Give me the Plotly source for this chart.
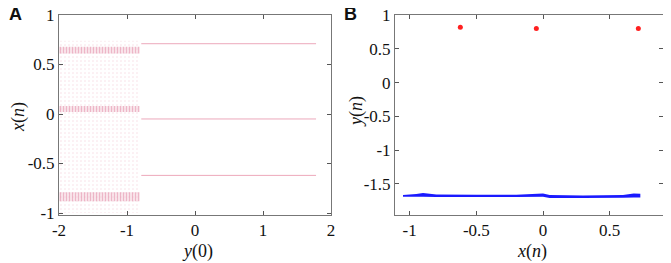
import plotly.graph_objects as go

# ---------------- Panel A data ----------------
# chaotic region extent (y(0) range) and x(n) bounds
chaos_x = [-2.0, -0.81]
chaos_y = [-1.0, 0.74]
# dense bands inside chaotic region: (low, high)
band_lows = [0.61, 0.02, -0.88]
band_highs = [0.68, 0.08, -0.79]
# period-3 branches for y(0) > -0.8
branch_x = [-0.79, 1.78]
branch_levels = [0.71, -0.05, -0.62]

# ---------------- Panel B data ----------------
red_x = [-0.62, -0.05, 0.715]
red_y = [0.82, 0.80, 0.80]
blue_x = [-1.05, -0.95, -0.9, -0.8, -0.5, -0.2, 0.0, 0.05, 0.3, 0.6, 0.68, 0.73]
blue_top = [-1.665, -1.65, -1.635, -1.655, -1.66, -1.66, -1.64, -1.665, -1.67, -1.665, -1.64, -1.645]
blue_bot = [-1.69, -1.69, -1.69, -1.695, -1.695, -1.695, -1.69, -1.71, -1.71, -1.705, -1.70, -1.70]

# tick labels
a_xticks = [-2, -1, 0, 1, 2]
a_yticks = [-1, -0.5, 0, 0.5, 1]
b_xticks = [-1, -0.5, 0, 0.5]
b_yticks = [-1.5, -1, -0.5, 0, 0.5, 1]

# the page body has an 8px margin; the figure is sized to the visible area
OFF = 8
W, H = 671 - OFF, 263 - OFF


def px(x):
    return (x - OFF) / W


def py(y):
    return 1 - (y - OFF) / H


fig = go.Figure()

fig.add_trace(go.Scatter(
    x=[chaos_x[0], chaos_x[1], chaos_x[1], chaos_x[0], chaos_x[0]],
    y=[chaos_y[0], chaos_y[0], chaos_y[1], chaos_y[1], chaos_y[0]],
    fill="toself", mode="none", fillcolor="rgba(255,255,255,0)",
    fillpattern=dict(shape=".", fgcolor="rgba(230,140,165,0.6)", bgcolor="rgba(255,255,255,0)",
                     size=4, solidity=0.12),
    xaxis="x", yaxis="y", showlegend=False, hoverinfo="skip"))
for lo, hi in zip(band_lows, band_highs):
    fig.add_trace(go.Scatter(
        x=[chaos_x[0], chaos_x[1], chaos_x[1], chaos_x[0], chaos_x[0]],
        y=[lo, lo, hi, hi, lo],
        fill="toself", mode="none", fillcolor="rgba(255,255,255,0)",
        fillpattern=dict(shape="|", fgcolor="rgba(220,110,145,0.75)", bgcolor="rgba(242,200,212,0.5)",
                         size=3, solidity=0.35),
        xaxis="x", yaxis="y", showlegend=False, hoverinfo="skip"))
for lv in branch_levels:
    fig.add_trace(go.Scatter(
        x=branch_x, y=[lv, lv], mode="lines",
        line=dict(color="rgba(235,160,180,0.9)", width=1),
        xaxis="x", yaxis="y", showlegend=False, hoverinfo="skip"))

fig.add_trace(go.Scatter(
    x=blue_x + blue_x[::-1], y=blue_top + blue_bot[::-1],
    fill="toself", mode="none",
    fillcolor="#1a1aff", xaxis="x2", yaxis="y2", showlegend=False, hoverinfo="skip"))
fig.add_trace(go.Scatter(
    x=red_x, y=red_y, mode="markers",
    marker=dict(color="#ff2020", size=5),
    xaxis="x2", yaxis="y2", showlegend=False, hoverinfo="skip"))

SERIF = "Liberation Serif"


def axis(domain, rng, ticks, anchor):
    return dict(
        domain=domain, range=rng, tickmode="array", tickvals=ticks,
        ticktext=[str(t) for t in ticks], anchor=anchor, automargin=False,
        ticklabeloverflow="allow",
        tickfont=dict(family=SERIF, size=17, color="#111"),
        showgrid=False, zeroline=False, showline=True, linecolor="#777", linewidth=1,
        mirror="ticks", ticks="inside", ticklen=4, tickcolor="#555")


def label(text, x, y, angle=0, size=18, family=SERIF):
    return dict(text=text, x=px(x), y=py(y), xref="paper", yref="paper",
                xanchor="center", yanchor="middle", textangle=angle, showarrow=False,
                font=dict(family=family, size=size, color="#111"))


fig.update_layout(
    width=W, height=H, margin=dict(l=0, r=0, t=0, b=0),
    paper_bgcolor="white", plot_bgcolor="white",
    font=dict(family=SERIF, size=17, color="#111"),
    xaxis=axis([px(59), px(331)], [-2, 2], a_xticks, "y"),
    yaxis=axis([py(215), py(15)], [-1.02, 1], a_yticks, "x"),
    xaxis2=axis([px(395), px(663)], [-1.11, 0.9], b_xticks, "y2"),
    yaxis2=axis([py(215), py(15)], [-1.96, 1], b_yticks, "x2"),
    annotations=[
        label("<i>y</i>(0)", 197, 251),
        label("<i>x</i>(<i>n</i>)", 18, 117, angle=-90),
        label("<i>x</i>(<i>n</i>)", 532, 251),
        label("<i>y</i>(<i>n</i>)", 356, 112, angle=-90),
        label("<b>A</b>", 15, 14, size=18, family="Liberation Sans"),
        label("<b>B</b>", 350, 14, size=18, family="Liberation Sans"),
    ],
)

fig.write_html("out.html")
